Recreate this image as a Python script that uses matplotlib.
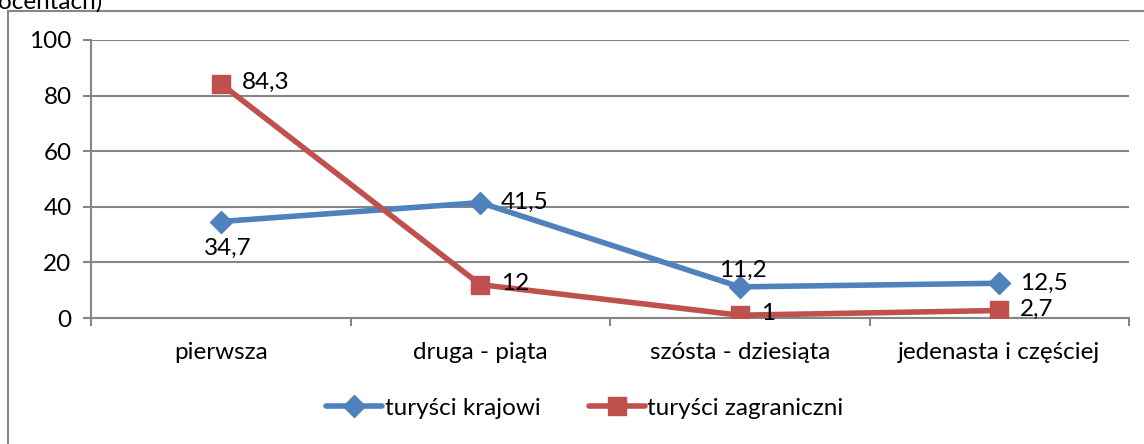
import matplotlib.pyplot as plt
from matplotlib.lines import Line2D

# data
categories = ["pierwsza", "druga - piąta", "szósta - dziesiąta", "jedenasta i częściej"]
krajowi = [34.7, 41.5, 11.2, 12.5]
zagraniczni = [84.3, 12.0, 1.0, 2.7]
krajowi_labels = ["34,7", "41,5", "11,2", "12,5"]
zagraniczni_labels = ["84,3", "12", "1", "2,7"]

blue = "#4F81BD"
red = "#C0504D"
grey = "#868686"
fs = 17.5

plt.rcParams["font.family"] = ["Lato", "DejaVu Sans"]

fig = plt.figure(figsize=(11.44, 4.44), dpi=100)
ax = fig.add_axes([91 / 1144, 1 - 318 / 444, (1129 - 91) / 1144, (318 - 40) / 444])

x = list(range(len(categories)))
ax.plot(x, krajowi, color=blue, lw=4, marker="D", markersize=11,
        solid_capstyle="round", label="turyści krajowi", zorder=3)
ax.plot(x, zagraniczni, color=red, lw=4, marker="s", markersize=13,
        solid_capstyle="round", label="turyści zagraniczni", zorder=3)

# data labels
for i, (v, t) in enumerate(zip(krajowi, krajowi_labels)):
    if i == 0:
        ax.annotate(t, (i, v), xytext=(5, -19), textcoords="offset points",
                    ha="center", va="center", fontsize=fs)
    elif i == 2:
        ax.annotate(t, (i, v), xytext=(2, 12), textcoords="offset points",
                    ha="center", va="center", fontsize=fs)
    else:
        ax.annotate(t, (i, v), xytext=(15, 0), textcoords="offset points",
                    ha="left", va="center", fontsize=fs)
for i, (v, t) in enumerate(zip(zagraniczni, zagraniczni_labels)):
    ax.annotate(t, (i, v), xytext=(15, 1), textcoords="offset points",
                ha="left", va="center", fontsize=fs)

ax.set_xlim(-0.5, 3.5)
ax.set_ylim(0, 100)
ax.set_yticks([0, 20, 40, 60, 80, 100])
ax.set_xticks(x)
ax.set_xticklabels(categories)
ax.set_xticks([-0.5, 0.5, 1.5, 2.5, 3.5], minor=True)
ax.tick_params(axis="x", which="major", length=0, pad=17, labelsize=fs)
ax.tick_params(axis="x", which="minor", length=6, color=grey, width=1.5, direction="out")
ax.tick_params(axis="y", length=6, color=grey, width=1.5, pad=8, labelsize=fs)

ax.grid(axis="y", color=grey, lw=1.5)
ax.set_axisbelow(True)
for s in ["top", "right"]:
    ax.spines[s].set_visible(False)
ax.spines["left"].set_color(grey)
ax.spines["left"].set_linewidth(1.5)
ax.spines["bottom"].set_color(grey)
ax.spines["bottom"].set_linewidth(1.5)

ax.legend(loc="center", bbox_to_anchor=(585 / 1144, 1 - 408 / 444),
          bbox_transform=fig.transFigure, ncol=2, frameon=False,
          fontsize=fs, handlelength=2.3, columnspacing=2.0, handletextpad=0.1)

# outer chart frame (left and top edges visible)
fig.add_artist(Line2D([8 / 1144, 8 / 1144], [0, 1 - 11 / 444], color=grey, lw=1.5,
                      transform=fig.transFigure))
fig.add_artist(Line2D([8 / 1144, 1], [1 - 11 / 444, 1 - 11 / 444], color=grey, lw=1.5,
                      transform=fig.transFigure))

# title of the chart, cut off at the top edge as in the source
fig.text(-0.002, 1 - 9 / 444, "ocentach)", fontsize=fs, ha="left", va="baseline")

fig.savefig("out.png", dpi=100)
